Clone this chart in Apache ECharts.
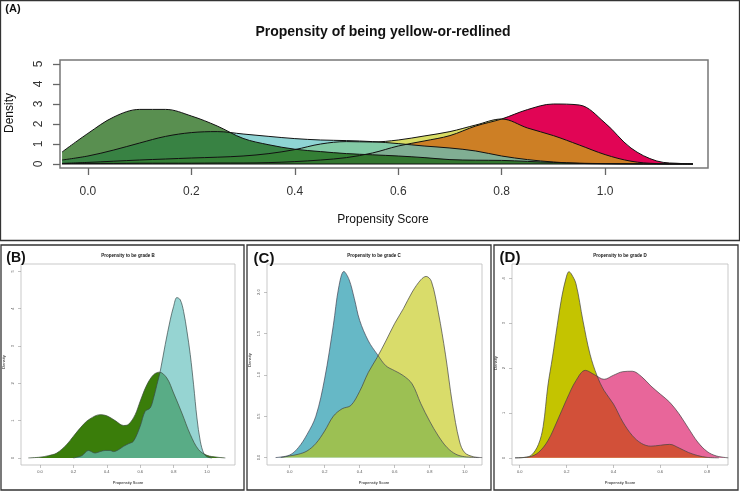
<!DOCTYPE html>
<html>
<head>
<meta charset="utf-8">
<script src="https://cdn.jsdelivr.net/npm/echarts@6/dist/echarts.min.js"></script>
<style>
html, body { margin: 0; padding: 0; background: #fff; }
#main { width: 740px; height: 491px; }
</style>
</head>
<body>
<div id="main"></div>
<script>
// (A) propensity of being yellow-or-redlined, one density per grade
const aX = [-0.05, 0.0, 0.05, 0.1, 0.15, 0.2, 0.25, 0.3, 0.35, 0.4, 0.45, 0.5, 0.55, 0.6, 0.65, 0.7, 0.75, 0.8, 0.85, 0.9, 0.95, 1.0, 1.05, 1.1, 1.15, 1.17]
const aGradeA = [0.6, 1.53, 2.35, 2.73, 2.73, 2.4, 1.9, 1.28, 0.96, 0.74, 0.62, 0.52, 0.46, 0.4, 0.32, 0.22, 0.19, 0.18, 0.13, 0.08, 0.04, 0.02, 0.01, 0, 0, 0]
const aGradeB = [0.2, 0.4, 0.7, 1.05, 1.38, 1.57, 1.62, 1.5, 1.38, 1.27, 1.2, 1.17, 1.12, 1.02, 0.9, 0.8, 0.65, 0.4, 0.22, 0.1, 0.03, 0.01, 0, 0, 0, 0]
const aGradeC = [0.03, 0.08, 0.14, 0.2, 0.25, 0.3, 0.34, 0.4, 0.52, 0.72, 1.0, 1.12, 1.1, 1.2, 1.4, 1.62, 1.95, 2.25, 1.8, 1.42, 0.95, 0.47, 0.14, 0.02, 0, 0]
const aGradeD = [0.02, 0.03, 0.03, 0.04, 0.04, 0.04, 0.05, 0.05, 0.07, 0.12, 0.2, 0.32, 0.55, 0.9, 1.15, 1.42, 1.9, 2.25, 2.72, 3.0, 2.95, 2.05, 0.8, 0.15, 0.02, 0]
const aXTicks = [0, 0.2, 0.4, 0.6, 0.8, 1.0]
const aYTicks = [0, 1, 2, 3, 4, 5]

// (B) grade B
const bXA = [-0.07, 0.0, 0.05, 0.1, 0.16, 0.2, 0.26, 0.3, 0.36, 0.4, 0.45, 0.5, 0.53, 0.57, 0.6, 0.64, 0.68, 0.715, 0.76, 0.8, 0.85, 0.9, 0.95, 1.0, 1.06, 1.11]
const bYA = [0, 0.02, 0.06, 0.13, 0.36, 0.58, 0.9, 1.05, 1.16, 1.13, 1.0, 0.87, 0.9, 1.16, 1.52, 1.96, 2.23, 2.3, 2.14, 1.74, 1.2, 0.63, 0.22, 0.07, 0.02, 0]
const bXB = [0.2, 0.25, 0.29, 0.33, 0.36, 0.39, 0.42, 0.44, 0.47, 0.5, 0.53, 0.56, 0.6, 0.63, 0.66, 0.68, 0.7, 0.72, 0.75, 0.78, 0.8, 0.82, 0.84, 0.86, 0.88, 0.9, 0.92, 0.94, 0.96, 0.98, 1.0, 1.03]
const bYB = [0, 0.06, 0.2, 0.13, 0.17, 0.2, 0.2, 0.17, 0.22, 0.31, 0.38, 0.45, 0.85, 1.25, 1.34, 1.6, 1.96, 2.32, 3.04, 3.7, 4.06, 4.3, 4.24, 3.93, 3.4, 2.77, 1.96, 1.07, 0.45, 0.13, 0.03, 0]
const bXTicks = [0, 0.2, 0.4, 0.6, 0.8, 1.0]
const bYTicks = [0, 1, 2, 3, 4, 5]

// (C) grade C
const cXB = [-0.08, 0.0, 0.05, 0.1, 0.15, 0.2, 0.25, 0.28, 0.31, 0.34, 0.37, 0.4, 0.45, 0.5, 0.55, 0.6, 0.65, 0.7, 0.75, 0.8, 0.85, 0.9, 0.95, 1.0, 1.08]
const cYB = [0, 0.03, 0.12, 0.28, 0.5, 0.95, 1.6, 2.05, 2.25, 2.15, 1.92, 1.66, 1.41, 1.25, 1.11, 1.05, 0.99, 0.89, 0.65, 0.44, 0.26, 0.12, 0.04, 0.01, 0]
const cXC = [-0.05, 0.0, 0.05, 0.1, 0.15, 0.2, 0.25, 0.3, 0.35, 0.4, 0.45, 0.5, 0.55, 0.6, 0.65, 0.7, 0.75, 0.78, 0.81, 0.85, 0.89, 0.93, 0.97, 1.0, 1.05, 1.1]
const cYC = [0, 0.02, 0.04, 0.08, 0.17, 0.32, 0.5, 0.59, 0.63, 0.8, 1.03, 1.21, 1.41, 1.62, 1.8, 2.0, 2.15, 2.19, 2.13, 1.75, 1.25, 0.65, 0.2, 0.06, 0.01, 0]
const cXTicks = [0, 0.2, 0.4, 0.6, 0.8, 1.0]
const cYTicks = [0, 0.5, 1.0, 1.5, 2.0]

// (D) grade D
const dXC = [-0.02, 0.02, 0.05, 0.08, 0.1, 0.12, 0.14, 0.16, 0.18, 0.2, 0.21, 0.22, 0.24, 0.27, 0.3, 0.33, 0.36, 0.4, 0.44, 0.48, 0.52, 0.56, 0.6, 0.64, 0.68, 0.72, 0.76, 0.8, 0.85]
const dYC = [0, 0.01, 0.06, 0.3, 0.7, 1.6, 2.25, 2.95, 3.6, 4.05, 4.15, 4.1, 3.88, 3.05, 2.31, 1.83, 1.5, 1.2, 0.8, 0.5, 0.32, 0.26, 0.28, 0.3, 0.22, 0.12, 0.05, 0.01, 0]
const dXD = [-0.02, 0.04, 0.08, 0.12, 0.16, 0.2, 0.24, 0.28, 0.32, 0.36, 0.4, 0.44, 0.48, 0.52, 0.56, 0.6, 0.64, 0.68, 0.72, 0.76, 0.8, 0.84, 0.89]
const dYD = [0, 0.02, 0.12, 0.38, 0.82, 1.3, 1.72, 1.95, 1.85, 1.75, 1.84, 1.92, 1.93, 1.81, 1.6, 1.42, 1.24, 0.98, 0.66, 0.35, 0.14, 0.04, 0]
const dXTicks = [0, 0.2, 0.4, 0.6, 0.8]
const dYTicks = [0, 1, 2, 3, 4]

const font = '"Liberation Sans", Arial, Helvetica, sans-serif'

function pairs(xs, ys) {
  return xs.map((x, i) => [x, ys[i]])
}

function area(idx, xs, ys, color, opacity, lineColor, lineWidth) {
  return {
    type: 'line',
    xAxisIndex: idx,
    yAxisIndex: idx,
    data: pairs(xs, ys),
    smooth: 0.35,
    symbol: 'none',
    silent: true,
    lineStyle: { color: lineColor, width: lineWidth },
    areaStyle: { color: color, opacity: opacity }
  }
}

function xAxis(idx, min, max, ticks, big) {
  return {
    type: 'value',
    gridIndex: idx,
    min: min,
    max: max,
    axisLine: { show: false, onZero: false },
    splitLine: { show: false },
    axisTick: {
      customValues: ticks,
      length: big ? 7 : 3,
      lineStyle: { color: big ? '#666' : '#999', width: big ? 1.3 : 0.6 }
    },
    axisLabel: {
      customValues: ticks,
      formatter: v => v.toFixed(1),
      margin: big ? 18 : 5,
      fontSize: big ? 12 : 4,
      color: big ? '#333' : '#555',
      fontFamily: font
    }
  }
}

function yAxis(idx, min, max, ticks, big, digits) {
  return {
    type: 'value',
    gridIndex: idx,
    min: min,
    max: max,
    axisLine: { show: false, onZero: false },
    splitLine: { show: false },
    axisTick: {
      customValues: ticks,
      length: big ? 7 : 3,
      lineStyle: { color: big ? '#666' : '#999', width: big ? 1.3 : 0.6 }
    },
    axisLabel: {
      customValues: ticks,
      rotate: 90,
      formatter: v => v.toFixed(digits),
      margin: big ? 15 : 6,
      fontSize: big ? 12 : 4,
      color: big ? '#333' : '#555',
      fontFamily: font
    }
  }
}

function text(x, y, str, size, bold, rotate) {
  return {
    type: 'text',
    x: x,
    y: y,
    rotation: rotate ? Math.PI / 2 : 0,
    silent: true,
    style: {
      text: str,
      fontSize: size,
      fontWeight: bold ? 'bold' : 'normal',
      fontFamily: font,
      fill: '#111',
      align: 'center',
      verticalAlign: 'middle'
    }
  }
}

function frame(x, y, w, h) {
  return {
    type: 'rect',
    silent: true,
    shape: { x: x, y: y, width: w, height: h },
    style: { fill: 'none', stroke: '#333', lineWidth: 1.3 }
  }
}

const chart = echarts.init(document.getElementById('main'), null, { renderer: 'canvas' })

chart.setOption({
  animation: false,
  backgroundColor: '#fff',
  grid: [
    { left: 60, top: 60, width: 648, height: 108, show: true, borderColor: '#777', borderWidth: 1.5, backgroundColor: 'transparent' },
    { left: 21, top: 264, width: 214, height: 201, show: true, borderColor: '#bbb', borderWidth: 0.8, backgroundColor: 'transparent' },
    { left: 267, top: 264, width: 215, height: 201, show: true, borderColor: '#bbb', borderWidth: 0.8, backgroundColor: 'transparent' },
    { left: 512, top: 264, width: 216, height: 201, show: true, borderColor: '#bbb', borderWidth: 0.8, backgroundColor: 'transparent' }
  ],
  xAxis: [
    xAxis(0, -0.054, 1.199, aXTicks, true),
    xAxis(1, -0.114, 1.168, bXTicks, false),
    xAxis(2, -0.129, 1.099, cXTicks, false),
    xAxis(3, -0.033, 0.889, dXTicks, false)
  ],
  yAxis: [
    yAxis(0, -0.2, 5.2, aYTicks, true, 0),
    yAxis(1, -0.19, 5.2, bYTicks, false, 0),
    yAxis(2, -0.09, 2.34, cYTicks, false, 1),
    yAxis(3, -0.16, 4.32, dYTicks, false, 0)
  ],
  series: [
    // (A)
    area(0, aX, aGradeD, 'rgb(225,5,85)', 1, '#111', 1),
    area(0, aX, aGradeC, 'rgb(193,199,9)', 0.63, '#111', 1),
    area(0, aX, aGradeB, 'rgb(96,194,194)', 0.7, '#111', 1),
    area(0, aX, aGradeA, 'rgb(19,96,5)', 0.7, '#111', 1),
    {
      type: 'line',
      xAxisIndex: 0,
      yAxisIndex: 0,
      data: [[aX[0], 0], [aX[aX.length - 1], 0]],
      symbol: 'none',
      silent: true,
      lineStyle: { color: '#111', width: 1.2 }
    },
    // (B)
    area(1, bXA, bYA, 'rgb(58,125,10)', 1, '#3a4a3a', 0.7),
    area(1, bXB, bYB, 'rgb(103,193,190)', 0.69, '#3a4a4a', 0.7),
    // (C)
    area(2, cXB, cYB, 'rgb(102,184,198)', 1, '#445', 0.7),
    area(2, cXC, cYC, 'rgb(192,197,7)', 0.6, '#444', 0.7),
    // (D)
    area(3, dXC, dYC, 'rgb(196,196,0)', 1, '#444', 0.7),
    area(3, dXD, dYD, 'rgb(218,8,92)', 0.62, '#444', 0.7)
  ],
  graphic: [
    frame(0.5, 0.5, 739, 240),
    frame(1, 245, 243, 245),
    frame(247, 245, 244, 245),
    frame(494, 245, 244, 245),
    text(13, 9, '(A)', 11, true),
    text(383, 32, 'Propensity of being yellow-or-redlined', 14, true),
    text(10, 113, 'Density', 12, false, true),
    text(383, 220, 'Propensity Score', 12, false),
    text(16, 258, '(B)', 14, true),
    text(264, 259, '(C)', 15, true),
    text(510, 258, '(D)', 15, true),
    text(128, 256, 'Propensity to be grade B', 4.5, true),
    text(374, 256, 'Propensity to be grade C', 4.5, true),
    text(620, 256, 'Propensity to be grade D', 4.5, true),
    text(128, 483, 'Propensity Score', 4, false),
    text(374, 483, 'Propensity Score', 4, false),
    text(620, 483, 'Propensity Score', 4, false),
    text(4, 362, 'Density', 4, false, true),
    text(250, 360, 'Density', 4, false, true),
    text(496, 363, 'Density', 4, false, true)
  ]
})
</script>
</body>
</html>
